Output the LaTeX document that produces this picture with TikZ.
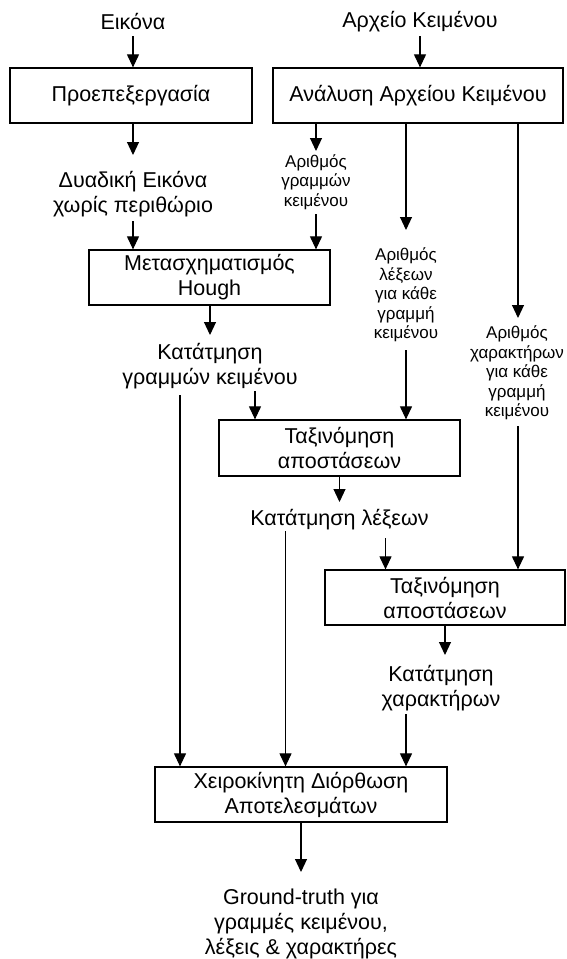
\documentclass[tikz,border=0pt]{standalone}
\usepackage{fontspec}
\setmainfont{Liberation Sans}
\usetikzlibrary{arrows.meta}
\newcommand{\mainsz}{\fontsize{21.5}{25}\selectfont}
\newcommand{\smallsz}{\fontsize{17}{19.5}\selectfont}
\begin{document}
\begin{tikzpicture}[x=1pt,y=-1pt,
  box/.style={draw, line width=1.25pt, inner sep=0pt, align=center, font=\mainsz},
  lbl/.style={inner sep=0pt, align=center, font=\mainsz},
  slbl/.style={inner sep=0pt, align=center, font=\smallsz},
  arr/.style={-{Triangle[length=13pt,width=12pt]}, line width=1.1pt}]
\useasboundingbox (0,0) rectangle (566,959);
% boxes
\node[box, minimum width=242pt, minimum height=55pt] (pre) at (131,95.5) {Προεπεξεργασία};
\node[box, minimum width=290pt, minimum height=55pt] (ana) at (418,95.5) {Ανάλυση Αρχείου Κειμένου};
\node[box, minimum width=241pt, minimum height=55pt] (hough) at (209.5,277.5) {Μετασχηματισμός\\Hough};
\node[box, minimum width=241pt, minimum height=56pt] (tax1) at (339.5,448) {Ταξινόμηση\\αποστάσεων};
\node[box, minimum width=240pt, minimum height=55pt] (tax2) at (445,597.5) {Ταξινόμηση\\αποστάσεων};
\node[box, minimum width=292pt, minimum height=55pt] (man) at (301,794.5) {Χειροκίνητη Διόρθωση\\Αποτελεσμάτων};
% labels
\node[lbl] (eikona) at (133,22) {Εικόνα};
\node[lbl] (arxeio) at (420,22) {Αρχείο Κειμένου};
\node[lbl] (dyad) at (133,194) {Δυαδική Εικόνα\\χωρίς περιθώριο};
\node[slbl] (argr) at (316,182) {Αριθμός\\γραμμών\\κειμένου};
\node[slbl] (arlex) at (406,295) {Αριθμός\\λέξεων\\για κάθε\\γραμμή\\κειμένου};
\node[slbl] (archar) at (517,373) {Αριθμός\\χαρακτήρων\\για κάθε\\γραμμή\\κειμένου};
\node[lbl] (katgr) at (210,366) {Κατάτμηση\\γραμμών κειμένου};
\node[lbl] (katlex) at (339.5,520) {Κατάτμηση λέξεων};
\node[lbl] (katchar) at (441,688) {Κατάτμηση\\χαρακτήρων};
\node[lbl] (gt) at (301,924) {Ground-truth για\\γραμμές κειμένου,\\λέξεις \& χαρακτήρες};
% connectors
\draw[arr] ([yshift=-14pt]eikona.center) coordinate (a1) -- (a1 |- pre.north);
\draw[arr] ([yshift=-14pt]arxeio.center) coordinate (a2) -- (a2 |- ana.north);
\draw[arr] (pre.south -| dyad) -- ([yshift=39pt]dyad.center);
\draw[arr] ([yshift=-27pt]dyad.center) coordinate (a4) -- (a4 |- hough.north);
\draw[arr] (ana.south -| argr) -- ([yshift=31pt]argr.center);
\draw[arr] ([yshift=-32pt]argr.center) coordinate (a6) -- (a6 |- hough.north);
\draw[arr] (ana.south -| arlex) -- ([yshift=65pt]arlex.center);
\draw[arr] ([yshift=-55pt]arlex.center) coordinate (a8) -- (a8 |- tax1.north);
\draw[arr] ([xshift=1pt]ana.south -| archar) -- ([xshift=1pt,yshift=55pt]archar.center);
\draw[arr] ([xshift=1pt,yshift=-53pt]archar.center) coordinate (a10) -- (a10 |- tax2.north);
\draw[arr] (hough.south -| katgr) -- ([yshift=31pt]katgr.center);
\draw[arr] ([xshift=45pt,yshift=-25pt]katgr.center) coordinate (a12) -- (a12 |- tax1.north);
\draw[arr] ([xshift=-30pt,yshift=-29pt]katgr.center) coordinate (a13) -- (a13 |- man.north);
\draw[arr] (tax1.south -| katlex) -- ([yshift=18pt]katlex.center);
\draw[arr] ([xshift=46pt,yshift=-18pt]katlex.center) coordinate (a15) -- (a15 |- tax2.north);
\draw[arr] ([xshift=-54pt,yshift=-11pt]katlex.center) coordinate (a16) -- (a16 |- man.north);
\draw[arr] (tax2.south) -- ([xshift=4pt,yshift=33pt]katchar.center);
\draw[arr] ([xshift=-35pt,yshift=-26pt]katchar.center) coordinate (a18) -- (a18 |- man.north);
\draw[arr] (man.south) -- ([yshift=52pt]gt.center);
\end{tikzpicture}
\end{document}
